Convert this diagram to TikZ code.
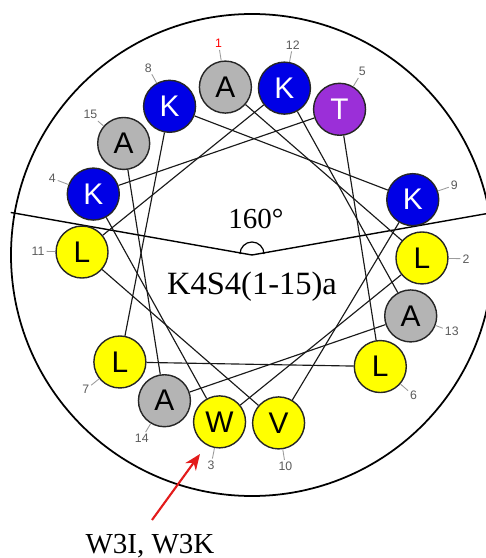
\documentclass[tikz,border=0pt]{standalone}
\usepackage{fontspec}
\setmainfont{Liberation Serif}
\setsansfont{Liberation Sans}
\usetikzlibrary{arrows.meta}
\definecolor{resblue}{HTML}{0000E6}
\definecolor{resgray}{HTML}{B4B4B4}
\definecolor{resyellow}{HTML}{FFFF00}
\definecolor{respurple}{HTML}{9B2FD8}
\definecolor{numgray}{HTML}{5A5A5A}
\definecolor{mutred}{HTML}{E31B1B}
\tikzset{
	bead/.style={circle, draw=black!85, line width=0.8pt, minimum size=1.04cm,
		inner sep=0pt, font=\sffamily\fontsize{17}{17}\selectfont},
	graybead/.style={bead, fill=resgray, text=black},
	yellowbead/.style={bead, fill=resyellow, text=black},
	bluebead/.style={bead, fill=resblue, text=white},
	purplebead/.style={bead, fill=respurple, text=white},
	resnum/.style={inner sep=1pt, font=\sffamily\fontsize{7}{7}\selectfont},
	numtick/.style={draw=numgray!60, line width=0.5pt},
	helixlink/.style={draw=black!90, line width=0.65pt},
	mutarr/.style={-{Stealth[length=3.2mm, width=2.6mm]}, line width=1.2pt, draw=mutred}
}

\begin{document}
\begin{tikzpicture}[x=0.02cm, y=0.02cm]
	\useasboundingbox (-252,-303) rectangle (234,255);
	\clip (-252,-303) rectangle (234,255);
	% outer wheel and 160 degree sector
	\draw[line width=1pt] (0,0) circle (241);
	\coordinate (vtx) at (0,0);
	\coordinate (lend) at (170:245);
	\coordinate (rend) at (10:245);
	\draw[line width=0.8pt] (lend) -- (vtx) -- (rend);
	\draw[line width=0.7pt] (12,1) arc (0:180:12);
	\node[font=\fontsize{16.5}{16.5}\selectfont, anchor=base] (ang) at (4,27) {160°};
	\node[font=\fontsize{18.5}{18.5}\selectfont, anchor=base] (pep) at (0,-39) {K4S4(1-15)a};
	% residues, 100 degrees apart
	\foreach \i/\aa/\st/\nc in {1/A/graybead/red, 2/L/yellowbead/numgray, 3/W/yellowbead/numgray,
			4/K/bluebead/numgray, 5/T/purplebead/numgray, 6/L/yellowbead/numgray,
			7/L/yellowbead/numgray, 8/K/bluebead/numgray, 9/K/bluebead/numgray,
			10/V/yellowbead/numgray, 11/L/yellowbead/numgray, 12/K/bluebead/numgray,
			13/A/graybead/numgray, 14/A/graybead/numgray, 15/A/graybead/numgray} {
		\node[\st] (r\i) at ({99-100*(\i-1)}:170) {\aa};
		\node[resnum, text=\nc] (n\i) at ({99-100*(\i-1)}:214) {\i};
		\draw[numtick] (r\i) -- (n\i);
	}
	\foreach \i [evaluate=\i as \j using int(\i+1)] in {1,...,14}
		\draw[helixlink] (r\i) -- (r\j);
	% mutation
	\node[font=\fontsize{16.5}{16.5}\selectfont, anchor=base] (mut) at (-102,-298) {W3I, W3K};
	\coordinate (arrtail) at (-100,-265);
	\coordinate (arrtip) at (-52,-199);
	\draw[mutarr] (arrtail) -- (arrtip);
\end{tikzpicture}
\end{document}
